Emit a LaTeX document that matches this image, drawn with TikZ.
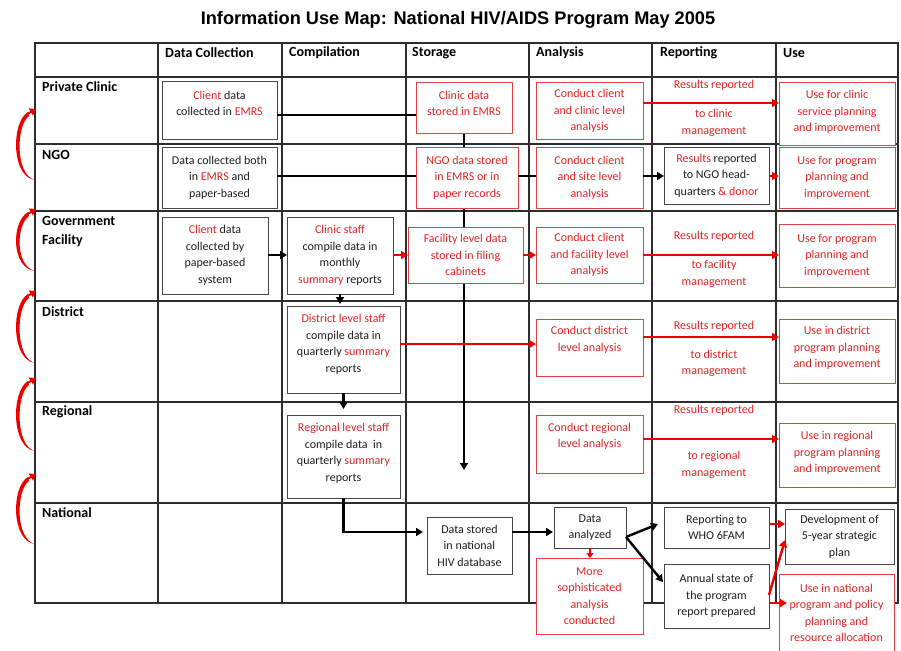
\documentclass[tikz,border=0pt]{standalone}
\usepackage{fontspec}
\setmainfont{Carlito}
\newfontfamily\titlefont{Liberation Sans}
\usetikzlibrary{arrows.meta}

\definecolor{txtred}{RGB}{224,36,36}
\definecolor{linered}{RGB}{238,0,0}
\definecolor{boxred}{RGB}{226,64,64}
\definecolor{boxgray}{RGB}{70,70,70}
\definecolor{gridgray}{RGB}{45,45,45}
\definecolor{txtdark}{RGB}{30,30,30}

\newcommand{\rd}[1]{\textcolor{txtred}{#1}}

\pgfdeclarelayer{bg}
\pgfsetlayers{bg,main}

\tikzset{
  boxbase/.style={rectangle, inner sep=0pt, outer sep=0pt, fill=white, line width=1pt},
  redbox/.style={boxbase, draw=boxred},
  graybox/.style={boxbase, draw=boxgray},
  boxtext/.style={align=center, inner sep=0pt, text=txtdark,
    font=\fontsize{12}{16.5}\selectfont},
  redtext/.style={boxtext, text=txtred},
  head/.style={anchor=west, inner sep=0pt, align=left,
    font=\fontsize{14}{19}\selectfont\bfseries},
  grid/.style={draw=gridgray, line width=1.2pt},
  blk/.style={line width=2.4pt, black},
  blkarrow/.style={blk, -{Triangle[length=7pt,width=8pt]}},
  redline/.style={line width=2.4pt, linered},
  redarrow/.style={redline, -{Triangle[length=7pt,width=8pt]}},
  arcbody/.style={fill=linered},
  archead/.style={linered, line width=2pt, -{Triangle[length=6pt,width=8pt]}},
}

% \cellbox{name}{box style}{x1}{y1}{x2}{y2}{text style}{text}
\newcommand{\cellbox}[8]{%
  \node[#2, minimum width={(#5-#3)*1pt}, minimum height={(#6-#4)*1pt}]
    (#1) at ({(#3+#5)/2},{(#4+#6)/2}) {};
  \node[#7] (#1-t) at (#1.center) {#8};%
}

\begin{document}
\begin{tikzpicture}[x=1pt,y=-1pt]
\useasboundingbox (0,0) rectangle (901,650);

% title
\node[font=\titlefont\bfseries\fontsize{18.2}{21}\selectfont, inner sep=0pt]
  (title) at (458,20) {Information Use Map: National HIV/AIDS Program May 2005};

% table grid
\begin{pgfonlayer}{bg}
  \draw[grid] (35,43) rectangle (898,603);
  \foreach \x in {158,282,406,529,652,776} \draw[grid] (\x,43) -- (\x,603);
  \foreach \y in {77,144,211,301,402,503} \draw[grid] (35,\y) -- (898,\y);
\end{pgfonlayer}

% column headings
\node[head] (h-dc) at (165,53) {Data Collection};
\node[head] (h-cp) at (289,53) {Compilation};
\node[head] (h-st) at (412,53) {Storage};
\node[head] (h-an) at (536,53) {Analysis};
\node[head] (h-rp) at (660,53) {Reporting};
\node[head] (h-us) at (783,53) {Use};

% row headings
\node[head] (r-pc) at (42,87) {Private Clinic};
\node[head] (r-ngo) at (42,155) {NGO};
\node[head] (r-gov) at (42,231.5) {Government\\Facility};
\node[head] (r-dis) at (42,312) {District};
\node[head] (r-reg) at (42,412) {Regional};
\node[head] (r-nat) at (42,513) {National};

% curved arrows from each level up to the one above (tapered crescents)
\foreach \t/\b in {108/180, 208/271, 290/363, 377/451, 473/544} {
  \fill[arcbody] (35,\b) .. controls (11,\b-3) and (11,\t+14) .. (28,\t+4)
    -- (29,\t+8) .. controls (16,\t+17) and (15,\b-5) .. (35,\b) -- cycle;
  \draw[archead] (27.5,\t+6) -- (36,\t+1);
}

% data collection
\cellbox{dc1}{graybox}{162}{82}{277}{139}{boxtext,yshift=7pt}{\rd{Client} data\\collected in \rd{EMRS}}
\cellbox{dc2}{graybox}{162}{147}{277}{208}{boxtext}{Data collected both\\in \rd{EMRS} and\\paper-based}
\cellbox{dc3}{graybox}{162}{217}{268}{294}{boxtext}{\rd{Client} data\\collected by\\paper-based\\system}

% compilation
\cellbox{cp3}{graybox}{287}{217}{393}{294}{boxtext}{\rd{Clinic staff}\\compile data in\\monthly\\\rd{summary} reports}
\cellbox{cp4}{graybox}{287}{306}{400}{393}{boxtext,yshift=5pt}{\rd{District level staff}\\compile data in\\quarterly \rd{summary}\\reports}
\cellbox{cp5}{graybox}{287}{415}{400}{498}{boxtext,yshift=3pt}{\rd{Regional level staff}\\compile data\ \ in\\quarterly \rd{summary}\\reports}

% storage
\cellbox{st1}{redbox}{416}{83}{512}{133}{redtext,yshift=4.5pt}{Clinic data\\stored in EMRS}
\cellbox{st2}{redbox}{416}{147}{518}{208}{redtext}{NGO data stored\\in EMRS or in\\paper records}
\cellbox{st3}{redbox}{408}{227}{523}{283}{redtext}{Facility level data\\stored in filing\\cabinets}
\cellbox{st6}{graybox}{427}{517}{512}{574}{boxtext}{Data stored\\in national\\HIV database}

% analysis
\cellbox{an1}{redbox}{536}{83}{643}{139}{redtext}{Conduct client\\and clinic level\\analysis}
\cellbox{an2}{redbox}{536}{147}{643}{208}{redtext}{Conduct client\\and site level\\analysis}
\cellbox{an3}{redbox}{536}{227}{643}{283}{redtext}{Conduct client\\and facility level\\analysis}
\cellbox{an4}{redbox}{536}{319}{643}{376}{redtext,yshift=7.5pt}{Conduct district\\level analysis}
\cellbox{an5}{redbox}{536}{415}{643}{473}{redtext,yshift=7.5pt}{Conduct regional\\level analysis}
\cellbox{an6a}{graybox}{554}{507}{626}{548}{boxtext}{Data\\analyzed}
\cellbox{an6b}{redbox}{536}{558}{643}{634}{redtext}{More\\sophisticated\\analysis\\conducted}

% reporting
\node[redtext] (rp1a) at (714,85) {Results reported};
\node[redtext] (rp1b) at (714,123) {to clinic\\management};
\cellbox{rp2}{graybox}{664}{147}{769}{204}{boxtext}{\rd{Results} reported\\to NGO head-\\quarters \rd{\& donor}}
\node[redtext] (rp3a) at (714,236) {Results reported};
\node[redtext] (rp3b) at (714,274) {to facility\\management};
\node[redtext] (rp4a) at (714,326) {Results reported};
\node[redtext] (rp4b) at (714,363.5) {to district\\management};
\node[redtext] (rp5a) at (714,410) {Results reported};
\node[redtext] (rp5b) at (714,465) {to regional\\management};
\cellbox{rp6a}{graybox}{664}{507}{769}{548}{boxtext}{Reporting to\\WHO 6FAM}
\cellbox{rp6b}{graybox}{664}{564}{769}{628}{boxtext}{Annual state of\\the program\\report prepared}

% use
\cellbox{us1}{redbox}{779}{83}{895}{145}{redtext,yshift=2pt}{Use for clinic\\service planning\\and improvement}
\cellbox{us2}{redbox}{779}{147}{895}{208}{redtext}{Use for program\\planning and\\improvement}
\cellbox{us3}{redbox}{779}{224}{895}{287}{redtext}{Use for program\\planning and\\improvement}
\cellbox{us4}{redbox}{779}{319}{895}{383}{redtext,yshift=3pt}{Use in district\\program planning\\and improvement}
\cellbox{us5}{redbox}{779}{423}{895}{487}{redtext,yshift=2pt}{Use in regional\\program planning\\and improvement}
\cellbox{us6a}{graybox}{785}{509}{894}{564}{boxtext}{Development of\\5-year strategic\\plan}
\cellbox{us6b}{redbox}{779}{574}{894}{652}{redtext}{Use in national\\program and policy\\planning and\\resource allocation}

% storage trunk line running down behind the storage boxes
\coordinate (trunk-end) at (464,470);
\begin{pgfonlayer}{bg}
  \draw[blkarrow] (st1.south) -- (st1.south |- trunk-end);
\end{pgfonlayer}

% private clinic
\draw[blk] (dc1.east |- 0,115) -- (st1.west |- 0,115);
\draw[redarrow] (an1.east |- 0,103) -- (us1.west |- 0,103);

% NGO
\draw[blk] (dc2.east |- 0,176) -- (st2.west |- 0,176);
\draw[blk] (st2.east |- 0,176) -- (an2.west |- 0,176);
\draw[blkarrow] (an2.east |- 0,176) -- (rp2.west |- 0,176);
\draw[redarrow] (rp2.east |- 0,176) -- (us2.west |- 0,176);

% government facility
\draw[blkarrow] (dc3.east |- 0,255) -- (cp3.west |- 0,255);
\draw[redarrow] (cp3.east |- 0,255) -- (st3.west |- 0,255);
\draw[redarrow] (st3.east |- 0,255) -- (an3.west |- 0,255);
\draw[redarrow] (an3.east |- 0,255) -- (us3.west |- 0,255);
\draw[blkarrow, shorten >=2pt] (cp3.south) -- (cp3.south |- cp4.north);

% district
\draw[redarrow] (cp4.east |- 0,344) -- (an4.west |- 0,344);
\draw[redarrow] (an4.east |- 0,337) -- (us4.west |- 0,337);
\draw[blkarrow, shorten >=6pt] (cp4.south) -- (cp4.south |- cp5.north);

% regional
\draw[redarrow] (an5.east |- 0,439) -- (us5.west |- 0,439);
\draw[blkarrow, shorten >=4pt] (cp5.south) |- (st6.west |- 0,532);

% national
\draw[blkarrow, shorten >=1pt] (st6.east |- 0,532) -- (an6a.west |- 0,532);
\draw[redline, line width=2pt, -{Triangle[length=5pt,width=7pt]}] (an6a.south) -- (an6a.south |- an6b.north);
\coordinate (fork) at (an6a.east |- 0,537);
\draw[blkarrow] (fork) -- ([xshift=-6pt,yshift=3.5pt]rp6a.west);
\draw[blkarrow] (fork) -- ([xshift=-1pt,yshift=14pt]rp6b.west);
\draw[redarrow] (rp6a.east |- 0,524) -- (us6a.west |- 0,524);
\draw[redarrow] (rp6b.east |- 0,595) -- ([yshift=-3.5pt]us6a.west);
\draw[redarrow] (rp6b.east |- 0,603) -- ([xshift=8pt]us6b.west |- 0,603);

\end{tikzpicture}
\end{document}
